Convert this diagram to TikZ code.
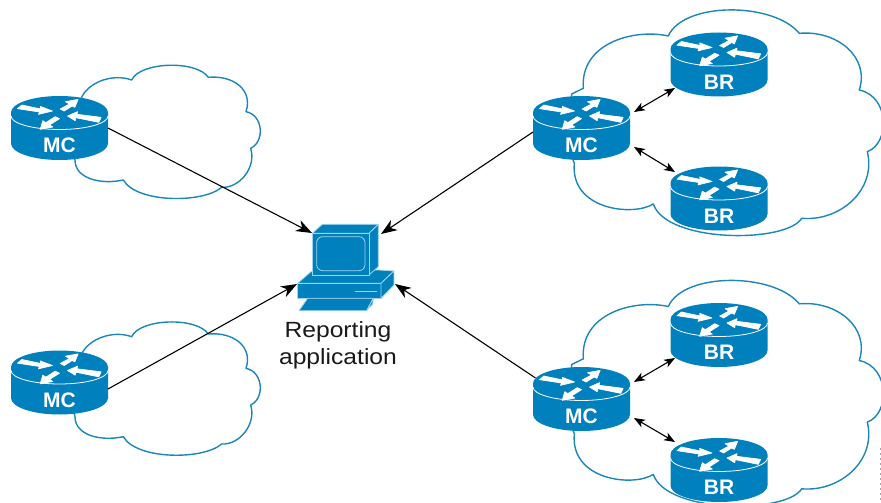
\documentclass[tikz,border=0pt]{standalone}
\usepackage{fontspec}
\setmainfont{Liberation Sans}
\usetikzlibrary{arrows.meta,calc}
\definecolor{cisco}{HTML}{0080BC}
\definecolor{cloudline}{HTML}{1A86BC}
\definecolor{pcline}{HTML}{9FD3EC}
\tikzset{
  cloudshape/.style={draw=cloudline,line width=1.4pt,fill=white,line join=round},
  routerbox/.style={rectangle,minimum width=97pt,minimum height=64pt,inner sep=0pt,outer sep=0pt},
  routerlabel/.style={text=white,font=\fontsize{21}{21}\selectfont\bfseries,inner sep=0pt},
  routerarrow/.style={fill=white,draw=white,line width=.7pt,line join=round},
  bigarrow/.style={-{Stealth[length=16pt,width=12pt,inset=5pt]},line width=1.1pt,black},
  linkarrow/.style={{Stealth[length=11pt,width=8.5pt,inset=3pt]}-{Stealth[length=11pt,width=8.5pt,inset=3pt]},line width=1.1pt,black},
  pcface/.style={fill=cisco,draw=pcline,line width=.8pt,line join=round},
  pctext/.style={align=center,font=\fontsize{22}{27}\selectfont,xscale=1.12,inner sep=0pt,text=black!90}
}
\newcommand{\routerat}[4]{%
  \begin{scope}[shift={(#2,#3)}]
    \fill[cisco] (-48.5,-15.5) arc[start angle=180,end angle=0,x radius=48.5pt,y radius=16.5pt]
      -- (48.5,15.5) arc[start angle=0,end angle=-180,x radius=48.5pt,y radius=16.5pt] -- cycle;
    \draw[white,line width=.8pt] (-48.5,-12) arc[start angle=180,end angle=360,x radius=48.5pt,y radius=13.5pt];
    \begin{scope}[x=.3333pt,y=-.3333pt,shift={(-178,-204)}]
      \path[routerarrow] (65,135)--(122,147)--(120,139)--(157,153)--(115,163)--(118,156)--(52,146)--cycle;
      \path[routerarrow] (180,147)--(208,132)--(196,125)--(234,118)--(224,142)--(216,138)--(192,153)--cycle;
      \path[routerarrow] (202,168)--(232,155)--(231,163)--(303,172)--(296,187)--(227,173)--(225,182)--cycle;
      \path[routerarrow] (120,208)--(128,182)--(137,188)--(165,170)--(178,176)--(148,195)--(158,201)--cycle;
    \end{scope}
  \end{scope}
  \node[routerbox] (#1) at (#2,#3) {};
  \node[routerlabel] (#1-label) at ($(#1)+(0,17.5)$) {#4};
}
\newcommand{\smallcloud}[2]{%
  \begin{scope}[shift={(#1,#2)},x=.3333pt,y=-.3333pt]
    \draw[cloudshape] (247,108) .. controls (270,65) and (340,40) .. (395,60)
      .. controls (420,5) and (590,0) .. (625,52)
      .. controls (700,45) and (760,90) .. (738,155)
      .. controls (790,165) and (795,245) .. (752,265)
      .. controls (770,320) and (720,385) .. (665,382)
      .. controls (610,430) and (410,430) .. (370,360)
      .. controls (300,375) and (225,355) .. (225,300)
      -- (200,200) -- cycle;
  \end{scope}
}
\newcommand{\bigcloud}[2]{%
  \begin{scope}[shift={(#1,#2)},x=.3333pt,y=-.3333pt]
    \draw[cloudshape] (190,265) .. controls (180,130) and (340,85) .. (445,108)
      .. controls (490,5) and (760,5) .. (838,100)
      .. controls (950,90) and (1050,170) .. (1018,270)
      .. controls (1110,290) and (1110,430) .. (1042,455)
      .. controls (1070,570) and (960,665) .. (845,655)
      .. controls (800,730) and (440,730) .. (400,612)
      .. controls (340,650) and (150,630) .. (163,490)
      -- (155,470) -- (155,282) -- cycle;
  \end{scope}
}
\begin{document}
\begin{tikzpicture}[x=1pt,y=-1pt]
\useasboundingbox (0,0) rectangle (881,503);
\clip (0,0) rectangle (881,503);
\smallcloud{0}{60}
\smallcloud{0}{316.7}
\bigcloud{520}{0}
\bigcloud{520}{270.5}
\draw[black!35,line width=1pt,dash pattern=on 2pt off 3pt] (880.3,448) -- (880.3,503);
\routerat{mca}{59.5}{128}{MC}
\routerat{mcb}{59.5}{382.5}{MC}
\routerat{mcc}{581.5}{128}{MC}
\routerat{mcd}{581.5}{399}{MC}
\routerat{bra}{719}{64.5}{BR}
\routerat{brb}{719}{198.5}{BR}
\routerat{brc}{719}{335}{BR}
\routerat{brd}{719}{470}{BR}
% computer
\node[rectangle,minimum width=100pt,minimum height=90pt,inner sep=0pt] (pc) at (346,266) {};
\begin{scope}[shift={(295,220)},x=.3333pt,y=-.3333pt]
  \path[pcface] (8,190)--(48,155)--(250,150)--(297,153)--(258,190)--cycle;
  \path[pcface] (52,40)--(82,13)--(250,13)--(222,40)--cycle;
  \path[pcface] (222,40)--(250,13)--(250,140)--(222,165)--cycle;
  \path[pcface] (52,40) rectangle (222,165);
  \path[pcface,rounded corners=6pt] (65,50) rectangle (210,152);
  \path[pcface] (8,190) rectangle (258,235);
  \path[pcface] (258,190)--(297,153)--(297,195)--(258,235)--cycle;
  \fill[pcline] (180,212) rectangle (245,217);
  \path[pcface] (12,272)--(38,235)--(235,235)--(215,272)--cycle;
  \path[pcface] (215,272)--(235,235)--(233,252)--cycle;
\end{scope}
\node[pctext] (pclabel) at (338,345) {Reporting\\application};
% connectors
\draw[bigarrow] ($(mca)+(48.5,0)$) -- ($(pc)+(-34,-33)$);
\draw[bigarrow] ($(mcb)+(48.5,6.5)$) -- ($(pc)+(-49,18)$);
\draw[bigarrow] ($(mcc)+(-48.5,4)$) -- ($(pc)+(35,-32)$);
\draw[bigarrow] ($(mcd)+(-46,-21)$) -- ($(pc)+(49,18)$);
\draw[linkarrow] ($(mcc)+(52.5,-16)$) -- ($(bra)+(-44,23.5)$);
\draw[linkarrow] ($(mcc)+(52.5,19)$) -- ($(brb)+(-44,-26.5)$);
\draw[linkarrow] ($(mcd)+(52.5,-17)$) -- ($(brc)+(-44,23)$);
\draw[linkarrow] ($(mcd)+(52.5,19)$) -- ($(brd)+(-44,-28)$);
\end{tikzpicture}
\end{document}
